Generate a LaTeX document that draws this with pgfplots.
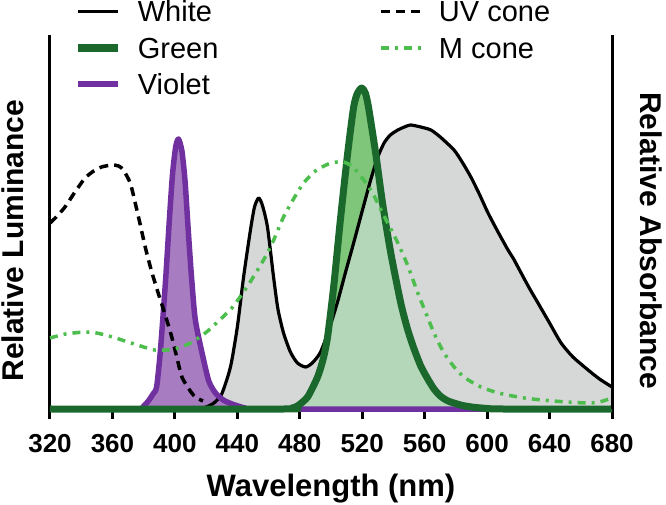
\documentclass[border=0pt]{standalone}
\usepackage{fontspec}
\setmainfont{Liberation Sans}
\usepackage{pgfplots}
\usepackage{pgfplotstable}
\pgfplotsset{compat=1.18}
\definecolor{dgreen}{RGB}{27,104,45}
\definecolor{mgreen}{RGB}{127,198,122}
\definecolor{lgreen}{RGB}{180,222,186}
\definecolor{gfill}{RGB}{214,215,215}
\definecolor{viol}{RGB}{112,48,160}
\definecolor{vfill}{RGB}{168,124,192}
\definecolor{mcone}{RGB}{77,190,77}

\pgfplotstableread{
x y
320 0
400 0
415 0
420 2
425 6
430 15
435.6 42
440 82
444 132
448.4 179
451 202
453.6 211
456 204
459.3 182
463.2 132
466 100
469.6 76
474 57
478.5 46
483.7 42
488 46
493 56
498 76
504 106
509 135
514.5 166
520 198
525.4 229
530 252
534 266
538 274
542.8 279
547 282
551 284
557.5 282
564 279
570 272
578.8 259
584 247
589.6 232
595 215
600.6 196
607 177
613.4 159
617 150
621.8 136
627 121
632.6 106
640 86
647.4 66
655 52
664.7 39
672 30
680 22
}\whitetab

\pgfplotstableread{
x y
320 0
470 0
475 1
478.5 3
485 12
491.4 32
495 50
497.8 72
501.7 122
506 189
510.7 256
514.5 302
517 316
519.7 321
522 316
524 302
528.6 256
533 206
538.3 156
544.7 106
549 80
553 61
557.5 43
562 30
566 20
570 13
575 8
583 4
590 2
600 0.5
610 0
680 0
}\greentab

\pgfplotstableread{
x y
320 0
375 0
380 3
383 8
386 15
388.3 22
390.6 56
392.5 95
394.3 135
396.5 190
398.5 235
400.5 262
402.3 270
404.5 258
406.5 228
408.5 180
410.5 135
413 90
417.4 56
421.7 28
426 16
431 9
436.6 5
445 1
455 0
680 0
}\violettab

\pgfplotstableread{
x y
320 186
324 192
329.6 202
336 217
342.5 231
348 238
353 242
359.6 244
364 243
367 239
371.4 226
374.6 206
378 183
381 162
385 138
389.3 116
394 93
398 72
401.5 50
404.5 32
409 20
413 12
418 8
}\uvtab

\pgfplotstableread{
x y
320 71
330 75
342.5 77
350 76
360 72
370 67
380 62
387 59
395 59
402 61
410 66
419.5 76
428 88
437 102
447 124
456.8 149
463 168
469.6 192
476 210
482.5 226
490 238
499.8 246
508 247
514 242
521 229
527 215
532 199
537 184
542.8 166
549 144
555.6 116
560 99
566 76
572.4 56
581 38
588 29
596 22
605 17
613 14
624 11
635 9
651 7
664 6
672 7
680 11
}\mtab

\begin{document}
\begin{tikzpicture}
\begin{axis}[name=ax,
  width=562pt, height=374pt, scale only axis,
  xmin=320, xmax=680, ymin=0, ymax=374,
  clip=false,
  axis lines*=left,
  axis line style={line width=3pt},
  xtick={320,360,...,680},
  ytick=\empty,
  tick style={line width=3pt, black},
  major tick length=10pt,
  tick align=outside,
  /pgf/number format/assume math mode=true,
  xticklabel style={font=\bfseries\fontsize{26}{26}\selectfont, inner sep=0pt, yshift=-15pt},
  xlabel={Wavelength (nm)},
  xlabel style={font=\bfseries\fontsize{31}{31}\selectfont, inner sep=0pt, yshift=-21pt},
  ylabel={Relative Luminance},
  ylabel style={font=\bfseries\fontsize{30}{30}\selectfont, inner sep=0pt, at={(rel axis cs:0,0.45)}, anchor=south, yshift=26pt},
  legend columns=2,
  legend cell align=left,
  legend style={draw=none, fill=none, inner sep=0pt, at={(rel axis cs:0.043,1.092)}, anchor=north west,
    font=\fontsize{29}{29}\selectfont, row sep=15.5pt,
    nodes={inner sep=0pt, text height=21pt, text depth=0pt},
    /tikz/every odd column/.append style={column sep=16pt},
    /tikz/every even column/.append style={column sep=161pt}},
  legend image code/.code={\draw[#1] (0pt,0pt) -- (40pt,0pt);},
]
\addlegendimage{black, line width=3.2pt}
\addlegendentry{White}
\addlegendimage{black, line width=3.5pt, dash pattern=on 9pt off 6pt}
\addlegendentry{UV cone}
\addlegendimage{dgreen, line width=7.5pt}
\addlegendentry{Green}
\addlegendimage{mcone, line width=3.5pt, dash pattern=on 8pt off 6pt on 3pt off 6pt}
\addlegendentry{M cone}
\addlegendimage{viol, line width=6pt}
\addlegendentry{Violet}

\addplot[fill=mgreen, draw=none, smooth, tension=0.4, forget plot] table[x=x,y=y]{\greentab} \closedcycle;
\addplot[fill=gfill, draw=none, smooth, tension=0.4, forget plot] table[x=x,y=y]{\whitetab} \closedcycle;
\addplot[fill=lgreen, draw=none, blend mode=darken, smooth, tension=0.4, forget plot] table[x=x,y=y]{\greentab} \closedcycle;
\addplot[fill=vfill, draw=none, smooth, tension=0.4, forget plot] table[x=x,y=y]{\violettab} \closedcycle;

\addplot[black, line width=3.2pt, line join=round, smooth, tension=0.4, forget plot] table[x=x,y=y]{\whitetab};
\addplot[viol, line width=5.5pt, line join=round, smooth, tension=0.4, forget plot] table[x=x,y=y]{\violettab};
\addplot[dgreen, line width=7pt, line join=round, smooth, tension=0.4, forget plot] table[x=x,y=y]{\greentab};
\addplot[black, line width=3.5pt, dash pattern=on 9pt off 6pt, smooth, tension=0.4, forget plot] table[x=x,y=y]{\uvtab};
\addplot[mcone, line width=3.5pt, dash pattern=on 8pt off 6pt on 3pt off 6pt, smooth, tension=0.4, forget plot] table[x=x,y=y]{\mtab};

\draw[line width=3pt] (rel axis cs:1,0) -- (rel axis cs:1,1);
\node[rotate=-90, anchor=south, inner sep=0pt, font=\bfseries\fontsize{30}{30}\selectfont] at ([xshift=28pt]rel axis cs:1,0.45) {Relative Absorbance};
\end{axis}
\pgfresetboundingbox
\path ([shift={(-50pt,-96pt)}]ax.south west) rectangle ([shift={(54pt,35pt)}]ax.north east);
\end{tikzpicture}
\end{document}
